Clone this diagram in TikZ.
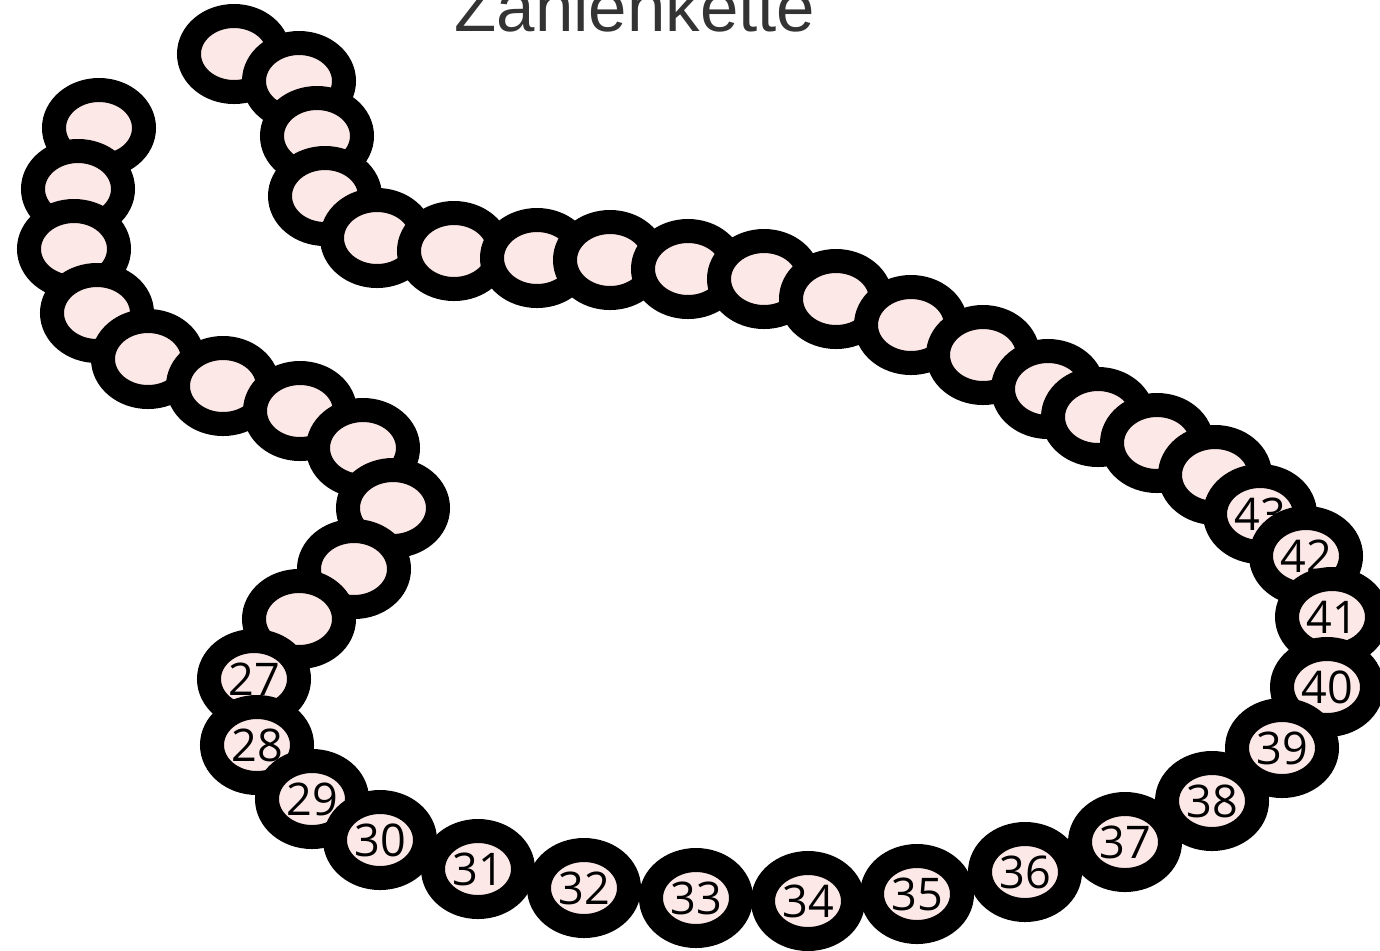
\documentclass[tikz,border=0pt]{standalone}
\usepackage{fontspec}
\setmainfont{Open Sans}
\newfontfamily\titlefont{Liberation Sans}
\usepackage{tikz}
\usetikzlibrary{shapes.geometric}
\definecolor{beadpink}{RGB}{252,232,230}
\definecolor{titlegray}{RGB}{51,51,51}

\begin{document}
\begin{tikzpicture}[x=0.5pt, y=-0.5pt,
    bead/.style={ellipse, draw=black, fill=beadpink, line width=12pt,
        minimum width=45pt, minimum height=38pt, inner sep=0pt,
        font=\fontsize{22.5}{22.5}\selectfont}]

    \useasboundingbox (0,0) rectangle (1380,950);

    % --- Title (cut off at the top edge) ---
    \node[font=\titlefont\fontsize{34.5}{34.5}\selectfont, text=titlegray,
        anchor=base, inner sep=0pt] (title) at (635,31) {Zahlenkette};

    % --- Left arm: empty beads 16 to 26 ---
    \foreach \n/\x/\y in {16/99/128, 17/78/189, 18/74/249, 19/97/313,
        20/148/359, 21/223/386, 22/300/411, 23/363/448, 24/393/508,
        25/354/569, 26/299/619}
        \node[bead] (b\n) at (\x,\y) {};

    % --- Left arm: numbered beads 27 to 33 ---
    \foreach \n/\x/\y in {27/254/679, 28/257/745, 29/312/799, 30/380/840,
        31/478/869, 32/584/888, 33/696/898}
        \node[bead] (b\n) at (\x,\y) {\n};

    % --- Top arm: empty beads 60 down to 44 ---
    \foreach \n/\x/\y in {60/234/54, 59/299/81, 58/317/136, 57/325/196,
        56/377/238, 55/454/251, 54/537/258, 53/610/260, 52/688/269,
        51/764/279, 50/836/299, 49/911/325, 48/983/355, 47/1048/389,
        46/1098/417, 45/1157/443, 44/1215/475}
        \node[bead] (b\n) at (\x,\y) {};

    % --- Top arm: numbered beads 43 down to 34 ---
    \foreach \n/\x/\y in {43/1260/514, 42/1306/556, 41/1332/617,
        40/1327/687, 39/1282/748, 38/1212/801, 37/1125/842,
        36/1025/872, 35/917/894, 34/808/901}
        \node[bead] (b\n) at (\x,\y) {\n};

\end{tikzpicture}
\end{document}
